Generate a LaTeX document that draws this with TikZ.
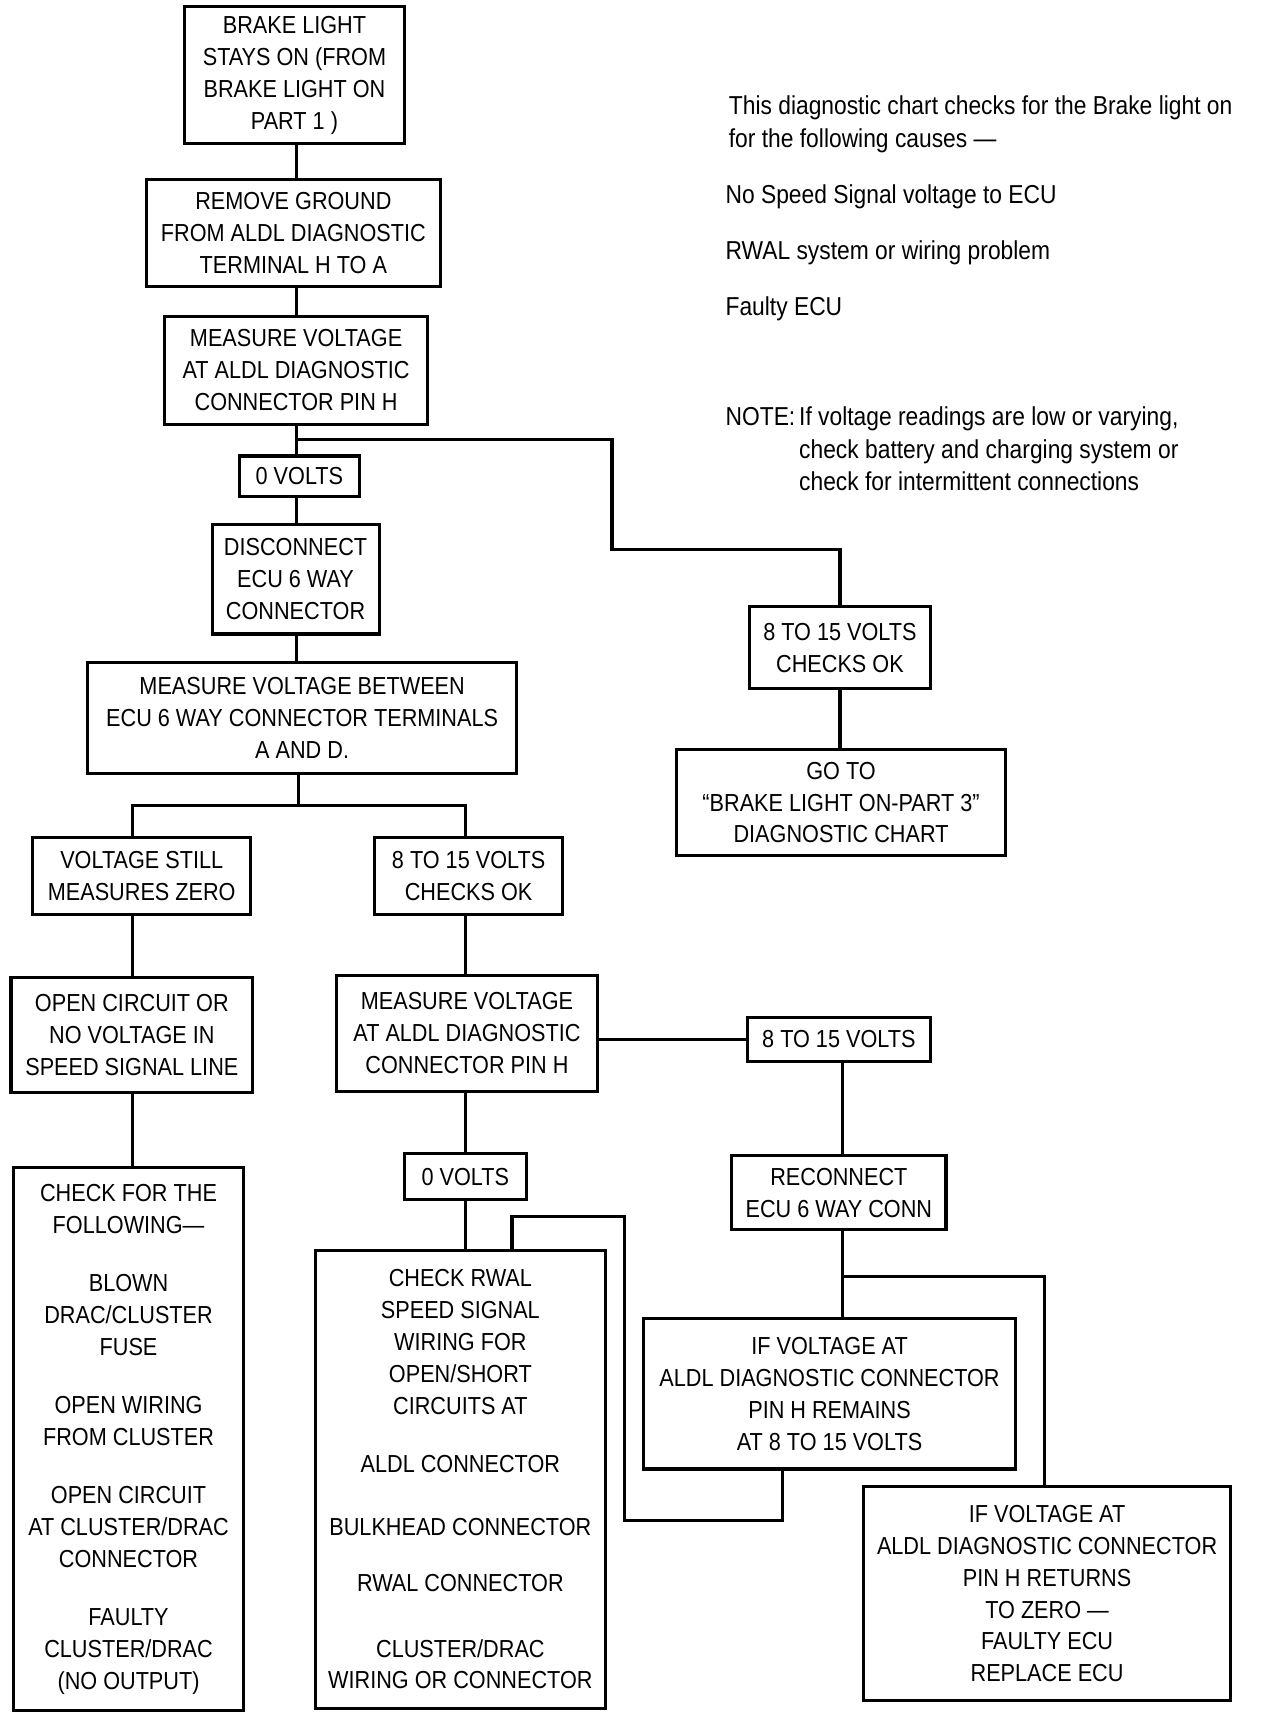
\documentclass[tikz,border=0pt]{standalone}
\usepackage{fontspec}
\setmainfont{Liberation Sans}[FakeStretch=0.88]
\tikzset{
  boxst/.style={draw, line width=1.4pt, inner sep=0pt, outer sep=0pt, align=center,
    font=\fontsize{11.2}{14.5}\selectfont},
  conn/.style={line width=1.4pt},
  notest/.style={anchor=base west, inner sep=0pt, font=\fontsize{11.8}{14.5}\selectfont}
}
\newcommand\mybox[6]{%
  \pgfmathsetmacro\myw{(#4-#2)*0.5}%
  \pgfmathsetmacro\myh{(#5-#3)*0.5}%
  \node[boxst, minimum width=\myw pt, minimum height=\myh pt] (#1) at ({(#2+#4)/2},{(#3+#5)/2}) {#6};}
\begin{document}
\begin{tikzpicture}[x=0.5pt,y=-0.5pt]
\useasboundingbox (0,0) rectangle (1150,1560);
% boxes
\mybox{A}{168}{6}{368}{131}{BRAKE LIGHT\\STAYS ON (FROM\\BRAKE LIGHT ON\\PART 1 )}
\mybox{B}{133}{163}{401}{261}{REMOVE GROUND\\FROM ALDL DIAGNOSTIC\\TERMINAL H TO A}
\mybox{C}{150}{288}{389}{386}{MEASURE VOLTAGE\\AT ALDL DIAGNOSTIC\\CONNECTOR PIN H}
\mybox{D}{218}{415}{327}{452}{0 VOLTS}
\mybox{E}{193}{477}{345}{577}{DISCONNECT\\ECU 6 WAY\\CONNECTOR}
\mybox{F}{80}{603}{470}{704}{MEASURE VOLTAGE BETWEEN\\ECU 6 WAY CONNECTOR TERMINALS\\A AND D.}
\mybox{G}{30}{762}{228}{832}{VOLTAGE STILL\\MEASURES ZERO}
\mybox{H}{341}{762}{512}{832}{8 TO 15 VOLTS\\CHECKS OK}
\mybox{I}{10}{890}{230}{994}{OPEN CIRCUIT OR\\NO VOLTAGE IN\\SPEED SIGNAL LINE}
\mybox{J}{306}{888}{544}{993}{MEASURE VOLTAGE\\AT ALDL DIAGNOSTIC\\CONNECTOR PIN H}
\mybox{K}{680}{926}{847}{966}{8 TO 15 VOLTS}
\mybox{L}{666}{1052}{861}{1119}{RECONNECT\\ECU 6 WAY CONN}
\mybox{M}{586}{1200}{924}{1337}{IF VOLTAGE AT\\ALDL DIAGNOSTIC CONNECTOR\\PIN H REMAINS\\AT 8 TO 15 VOLTS}
\mybox{N}{786}{1353}{1120}{1548}{IF VOLTAGE AT\\ALDL DIAGNOSTIC CONNECTOR\\PIN H RETURNS\\TO ZERO ---\\FAULTY ECU\\REPLACE ECU}
\mybox{O}{287}{1138}{551}{1555}{CHECK RWAL\\SPEED SIGNAL\\WIRING FOR\\OPEN/SHORT\\CIRCUITS AT\\[12pt]ALDL CONNECTOR\\[14pt]BULKHEAD CONNECTOR\\[11pt]RWAL CONNECTOR\\[15.5pt]CLUSTER/DRAC\\WIRING OR CONNECTOR}
\mybox{P}{368}{1050}{479}{1092}{0 VOLTS}
\mybox{Q}{12}{1063}{222}{1557}{CHECK FOR THE\\FOLLOWING---\\[12pt]BLOWN\\DRAC/CLUSTER\\FUSE\\[12pt]OPEN WIRING\\FROM CLUSTER\\[12pt]OPEN CIRCUIT\\AT CLUSTER/DRAC\\CONNECTOR\\[12pt]FAULTY\\CLUSTER/DRAC\\(NO OUTPUT)}
\mybox{R}{682}{552}{847}{627}{8 TO 15 VOLTS\\CHECKS OK}
\mybox{S}{616}{682}{915}{779}{GO TO\\``BRAKE LIGHT ON-PART 3''\\DIAGNOSTIC CHART}
% notes
\node[notest] (t1) at (663,104) {This diagnostic chart checks for the Brake light on};
\node[notest] (t2) at (663,134) {for the following causes ---};
\node[notest] (t3) at (660,185) {No Speed Signal voltage to ECU};
\node[notest] (t4) at (660,236) {RWAL system or wiring problem};
\node[notest] (t5) at (660,287) {Faulty ECU};
\node[notest] (t6) at (660,387) {NOTE:};
\node[notest] (t7) at (727,387) {If voltage readings are low or varying,};
\node[notest] (t8) at (727,417) {check battery and charging system or};
\node[notest] (t9) at (727,446) {check for intermittent connections};
% connectors
\coordinate (tx) at (270,0);
\draw[conn] (tx |- A.south) -- (tx |- B.north);
\draw[conn] (tx |- B.south) -- (tx |- C.north);
\draw[conn] (tx |- C.south) -- (tx |- D.north);
\draw[conn] (tx |- D.south) -- (tx |- E.north);
\draw[conn] (tx |- E.south) -- (tx |- F.north);
\coordinate (b1) at (270,400);
\coordinate (b2) at (557,500);
\draw[conn] (b1) -| (b2) -| (R.north);
\draw[conn] (R.south) -- (R.south |- S.north);
\coordinate (f0) at (272,733);
\coordinate (gx) at (121,733);
\coordinate (hx) at (424,733);
\draw[conn] (f0 |- F.south) -- (f0);
\draw[conn] (gx |- G.north) -- (gx) -- (hx) -- (hx |- H.north);
\draw[conn] (gx |- G.south) -- (gx |- I.north);
\draw[conn] (gx |- I.south) -- (gx |- Q.north);
\draw[conn] (hx |- H.south) -- (hx |- J.north);
\draw[conn] (hx |- J.south) -- (hx |- P.north);
\draw[conn] (hx |- P.south) -- (hx |- O.north);
\draw[conn] (J.east |- K.west) -- (K.west);
\coordinate (kx) at (767,0);
\draw[conn] (kx |- K.south) -- (kx |- L.north);
\draw[conn] (kx |- L.south) -- (kx |- M.north);
\coordinate (l1) at (767,1162);
\coordinate (nx) at (951,0);
\draw[conn] (l1) -| (nx |- N.north);
\coordinate (m1) at (712,1384);
\coordinate (m2) at (568,1107);
\coordinate (m3) at (466,1107);
\draw[conn] (m1 |- M.south) -- (m1) -| (m2) -- (m3) -- (m3 |- O.north);
\end{tikzpicture}
\end{document}
